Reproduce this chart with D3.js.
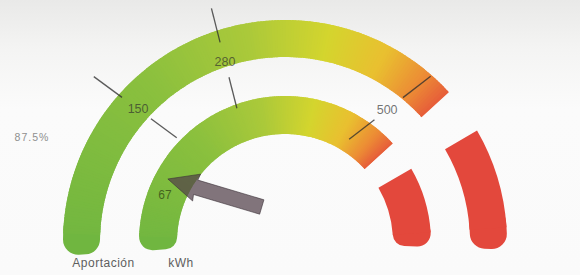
<!DOCTYPE html>
<html><head><meta charset="utf-8">
<script src="https://cdn.jsdelivr.net/npm/d3@7"></script>
<style>html,body{margin:0;padding:0;background:#fafafa;} svg{display:block;}</style>
</head><body><svg id="c" width="580" height="275"></svg>
<script>
// ---------- data ----------
const gaugeNames = ["Aportación", "kWh"];
const tickValues = [150, 280, 500];
const tickLabels = ["150", "280", "500"];
const pointerValue = 67;
const pointerLabel = "67";
const percentLabel = "87.5%";
const gradientZone = [-45, 540];   // green -> orange band (value units)
const alertZone = [590, 720];      // red band (value units)

// ---------- layout / scales ----------
const W = 580, H = 275, cx = 285, cy = 242;
const rings = [{inner: 185, outer: 222}, {inner: 108, outer: 146}];
const rad = d => d * Math.PI / 180;
const angle = d3.scaleLinear()
  .domain([0, 150, 280, 500, 700])
  .range([-83, -47.9, -18.4, 37.7, 87].map(rad));
const color = d3.scaleLinear()
  .domain([-94, -40, -10, 12, 28, 40, 48].map(rad))
  .range(["#70b640", "#8bc03e", "#abc93a", "#d4d52e", "#e9c030", "#ec8c35", "#e65a3a"])
  .clamp(true);
const red = "#e3483c";

const svg = d3.select("#c");
const defs = svg.append("defs");
const bg = defs.append("linearGradient").attr("id", "bg").attr("x1", 0).attr("y1", 0).attr("x2", 0).attr("y2", 1);
bg.append("stop").attr("offset", "0%").attr("stop-color", "#e9e9e8");
bg.append("stop").attr("offset", "18%").attr("stop-color", "#f4f4f3");
bg.append("stop").attr("offset", "40%").attr("stop-color", "#fbfbfb");
bg.append("stop").attr("offset", "100%").attr("stop-color", "#fafafa");
svg.append("rect").attr("width", W).attr("height", H).attr("fill", "url(#bg)");

const g = svg.append("g").attr("transform", `translate(${cx},${cy})`);
const arc = d3.arc();

rings.forEach(r => {
  const a0 = angle(gradientZone[0]), a1 = angle(gradientZone[1]);
  g.append("path")
    .attr("d", d3.arc().innerRadius(r.inner).outerRadius(r.outer)
      .startAngle(a0).endAngle(a0 + 0.2).cornerRadius(15)())
    .attr("fill", color(a0));
  const s0 = a0 + 0.1, n = 180, step = (a1 - s0) / n;
  d3.range(n).forEach(i => {
    const s = s0 + i * step;
    g.append("path")
      .attr("d", arc({innerRadius: r.inner, outerRadius: r.outer, startAngle: s, endAngle: Math.min(s + step * 1.8, a1)}))
      .attr("fill", color(s + step / 2));
  });
  const b0 = angle(alertZone[0]), b1 = angle(alertZone[1]);
  g.append("path")
    .attr("d", d3.arc().innerRadius(r.inner).outerRadius(r.outer)
      .startAngle(b1 - 0.2).endAngle(b1).cornerRadius(15)())
    .attr("fill", red);
  g.append("path")
    .attr("d", arc({innerRadius: r.inner, outerRadius: r.outer, startAngle: b0, endAngle: b1 - 0.1}))
    .attr("fill", red);
});

// ---------- ticks ----------
const tickLabelR = [198, 190, 167];
const tickTilt = [-5.7, 4.1, 14.6];
const polar = (r, th) => [r * Math.sin(th), -r * Math.cos(th)];
tickValues.forEach((v, i) => {
  const th = angle(v);
  const P = polar(tickLabelR[i], th);
  const dir = Math.atan2(Math.cos(th), -Math.sin(th)) + rad(tickTilt[i]);
  const d = [Math.cos(dir), Math.sin(dir)];
  const pt = t => [P[0] + d[0] * t, P[1] + d[1] * t];
  [[-55, -20], [16, 48]].forEach(([t0, t1]) => {
    const A = pt(t0), B = pt(t1);
    g.append("line").attr("x1", A[0]).attr("y1", A[1]).attr("x2", B[0]).attr("y2", B[1])
      .attr("stroke", "#2e2e2e").attr("stroke-opacity", 0.78).attr("stroke-width", 1.3);
  });
  g.append("text").attr("x", P[0]).attr("y", P[1])
    .attr("text-anchor", "middle").attr("dominant-baseline", "central")
    .attr("font-family", "Liberation Sans, Arial, sans-serif").attr("font-size", 12.5)
    .attr("fill", "#2e2e2e").attr("fill-opacity", 0.68)
    .text(tickLabels[i]);
});

// ---------- pointer ----------
const thP = angle(pointerValue);
const L = polar(129, thP - rad(1.3));
g.append("text").attr("x", L[0]).attr("y", L[1])
  .attr("text-anchor", "middle").attr("dominant-baseline", "central")
  .attr("font-family", "Liberation Sans, Arial, sans-serif").attr("font-size", 12)
  .attr("fill", "#2b3a10").attr("fill-opacity", 0.7)
  .text(pointerLabel);
const tip = polar(133, thP + rad(5.6));
g.append("path")
  .attr("transform", `translate(${tip[0]},${tip[1]}) rotate(16.6)`)
  .attr("d", "M0,0 L30,-14 L29,-7.5 L98,-7.5 L98,7.5 L29,7.5 L30,14 Z")
  .attr("fill", "#52404a").attr("fill-opacity", 0.72)
  .attr("stroke", "#3a3036").attr("stroke-opacity", 0.6).attr("stroke-width", 0.9);

// ---------- side texts ----------
svg.append("text").attr("x", 32).attr("y", 141).attr("text-anchor", "middle")
  .attr("font-family", "Liberation Sans, Arial, sans-serif").attr("font-size", 10.5)
  .attr("letter-spacing", 1).attr("fill", "#8f8f8f").text(percentLabel);
const nameX = [cx - (rings[0].inner + rings[0].outer) / 2 + 22, cx - (rings[1].inner + rings[1].outer) / 2 + 23];
gaugeNames.forEach((name, i) => {
  svg.append("text").attr("x", nameX[i]).attr("y", 267).attr("text-anchor", "middle")
    .attr("font-family", "Liberation Sans, Arial, sans-serif").attr("font-size", 12)
    .attr("letter-spacing", 0.5).attr("fill", "#5e5e5e").text(name);
});
</script>
</body></html>
